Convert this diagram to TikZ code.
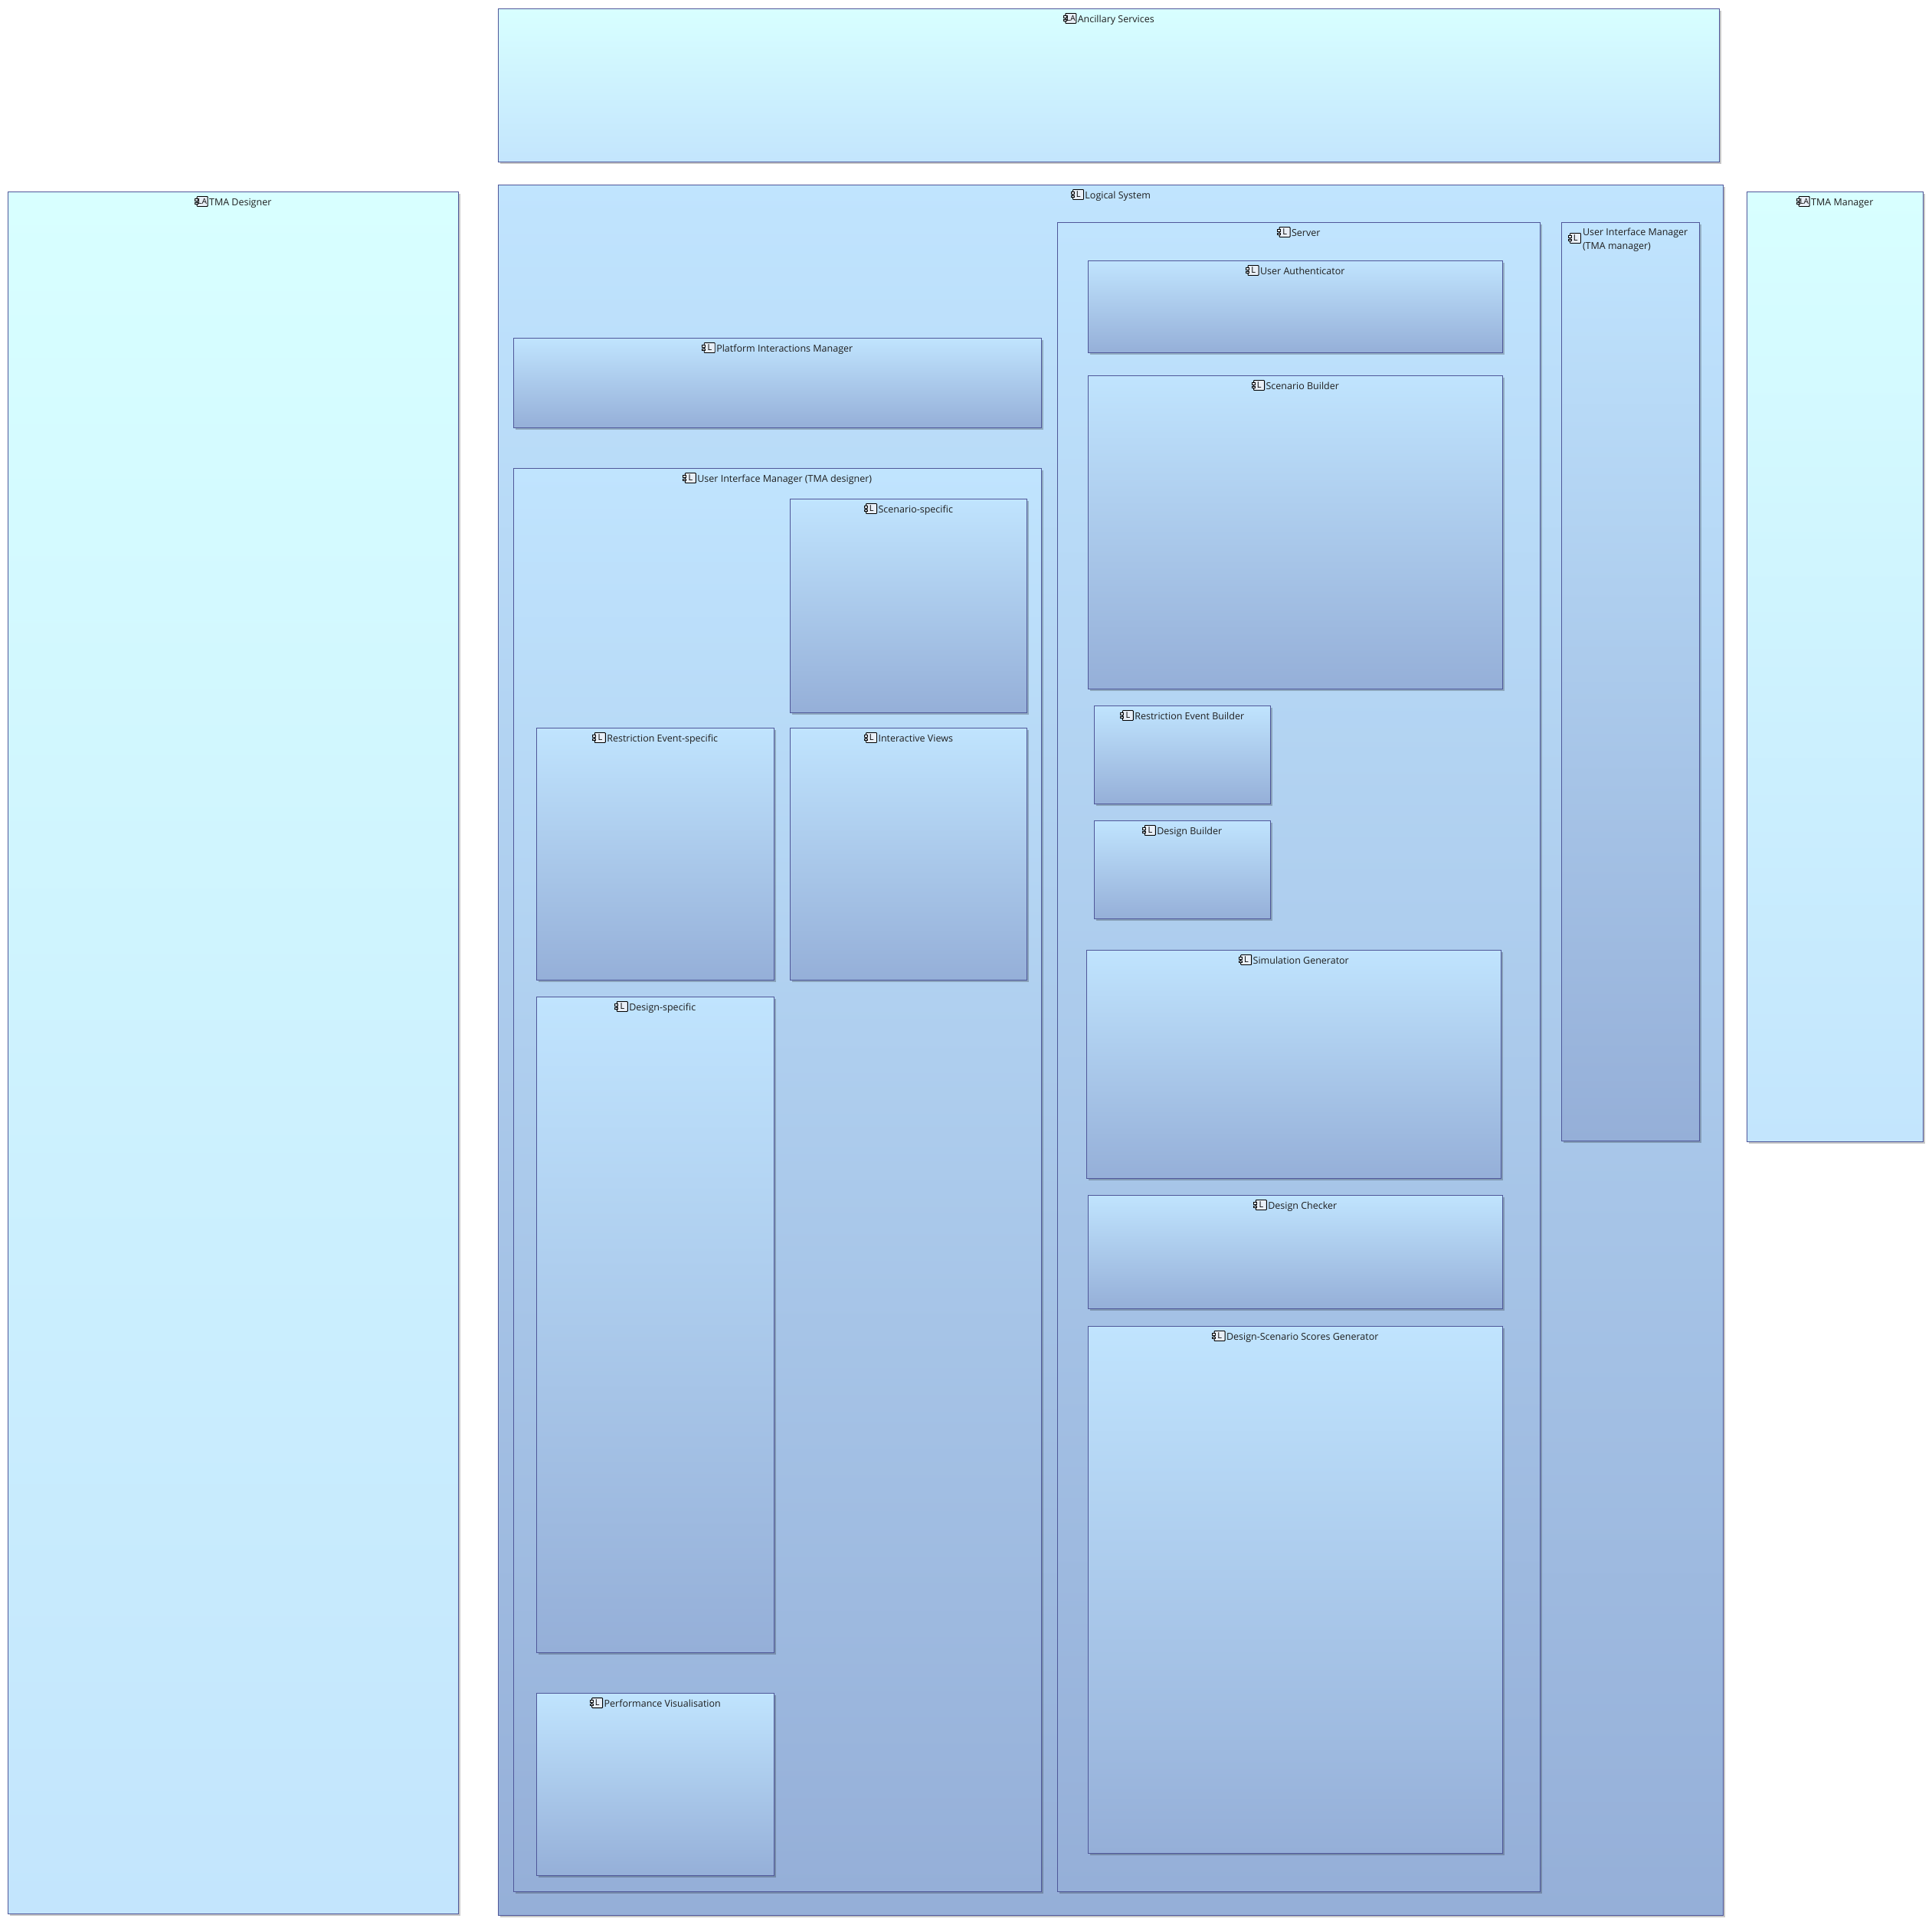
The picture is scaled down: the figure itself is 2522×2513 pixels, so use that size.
\documentclass[tikz,border=0pt]{standalone}
\usepackage{fontspec}
\setmainfont{Open Sans}
\usetikzlibrary{shadows}
\definecolor{edgeblue}{HTML}{4F5799}
\definecolor{ltop}{HTML}{C0E4FE}
\definecolor{lbot}{HTML}{95AFD8}
\definecolor{atop}{HTML}{D8FFFF}
\definecolor{abot}{HTML}{C3E5FD}
\definecolor{inkdark}{HTML}{1E1E1E}
\definecolor{iconfill}{HTML}{E9EFF7}
\tikzset{
  compbox/.style={draw=edgeblue,line width=1.05pt,anchor=north west,inner sep=0pt,outer sep=0pt,
    drop shadow={shadow xshift=2.5pt,shadow yshift=-2.5pt,fill=black,opacity=.22}},
  logicbox/.style={compbox,top color=ltop,bottom color=lbot},
  actorbox/.style={compbox,top color=atop,bottom color=abot},
  titletext/.style={inner sep=0pt,outer sep=0pt,text=inkdark,text height=9pt,text depth=3pt,
    font=\fontsize{12.5pt}{17pt}\selectfont},
  iconbody/.style={draw=black,line width=.95pt,fill=iconfill},
  icontab/.style={draw=black,line width=.9pt,fill=iconfill},
  iconL/.pic={
    \draw[iconbody,rounded corners=.8pt] (2.5,-6.5) rectangle (16.5,6.5);
    \draw[icontab] (0,-3.8) rectangle (4,-1);
    \draw[icontab] (0,1) rectangle (4,3.8);
    \node[inner sep=0pt,text=black,font=\fontsize{11pt}{11pt}\selectfont] (letter) at (9.7,0) {L};
  },
  iconLA/.pic={
    \draw[iconbody,rounded corners=.8pt] (2.5,-6.5) rectangle (16.5,6.5);
    \draw[icontab] (0,-3.8) rectangle (4,-1);
    \draw[icontab] (0,1) rectangle (4,3.8);
    \node[inner sep=0pt,text=black,font=\fontsize{10pt}{10pt}\selectfont] (letter) at (9.6,0) {LA};
  },
}
% #1 name, #2 style, #3 icon, #4 x1, #5 y1, #6 x2, #7 y2, #8 title
\newcommand{\compo}[8]{%
  \pgfmathsetmacro{\bw}{#6-#4}\pgfmathsetmacro{\bh}{#7-#5}%
  \node[#2,minimum width=\bw pt,minimum height=\bh pt] (#1) at ({#4+.5},{#5+.5}) {};
  \node[titletext] (#1-title) at ({(#4+#6)/2+.5},{#5+15.5}) {\hspace*{18.5pt}#8};
  \pic (#1-icon) at ([yshift=2.5pt]#1-title.west) {#3};
}
\begin{document}
\begin{tikzpicture}[x=1pt,y=-1pt]
\useasboundingbox (0,0) rectangle (2522,2513);
\fill[white] (0,0) rectangle (2522,2513);
\compo{anc}{actorbox}{iconLA}{650}{11}{2244}{211}{Ancillary Services}
\compo{tmad}{actorbox}{iconLA}{10}{250}{598}{2498}{TMA Designer}
\compo{tmam}{actorbox}{iconLA}{2280}{250}{2510}{1490}{TMA Manager}
\compo{logical}{logicbox}{iconL}{650}{241}{2249}{2500}{Logical System}
\compo{server}{logicbox}{iconL}{1380}{290}{2010}{2469}{Server}
\compo{platform}{logicbox}{iconL}{670}{441}{1359}{558}{Platform Interactions Manager}
\compo{uidesigner}{logicbox}{iconL}{670}{611}{1359}{2469}{User Interface Manager (TMA designer)}
\compo{scenspec}{logicbox}{iconL}{1031}{651}{1340}{930}{Scenario-specific}
\compo{restspec}{logicbox}{iconL}{700}{950}{1010}{1279}{Restriction Event-specific}
\compo{interviews}{logicbox}{iconL}{1031}{950}{1340}{1279}{Interactive Views}
\compo{designspec}{logicbox}{iconL}{700}{1301}{1010}{2157}{Design-specific}
\compo{perfvis}{logicbox}{iconL}{700}{2210}{1010}{2448}{Performance Visualisation}
\compo{userauth}{logicbox}{iconL}{1420}{340}{1961}{460}{User Authenticator}
\compo{scenbuild}{logicbox}{iconL}{1420}{490}{1961}{899}{Scenario Builder}
\compo{restbuild}{logicbox}{iconL}{1428}{921}{1658}{1049}{Restriction Event Builder}
\compo{designbuild}{logicbox}{iconL}{1428}{1071}{1658}{1199}{Design Builder}
\compo{simgen}{logicbox}{iconL}{1418}{1240}{1959}{1538}{Simulation Generator}
\compo{designcheck}{logicbox}{iconL}{1420}{1560}{1961}{1708}{Design Checker}
\compo{dsscores}{logicbox}{iconL}{1420}{1731}{1961}{2419}{Design-Scenario Scores Generator}
\node[logicbox,minimum width=180pt,minimum height=1199pt] (uimanager) at (2038.5,290.5) {};
\node[titletext,anchor=north west,align=left,text height=,text depth=,font=\fontsize{12.5pt}{18pt}\selectfont] (uimanager-title) at (2066,298) {User Interface Manager\\(TMA manager)};
\pic (uimanager-icon) at (2047,311) {iconL};
\end{tikzpicture}
\end{document}
